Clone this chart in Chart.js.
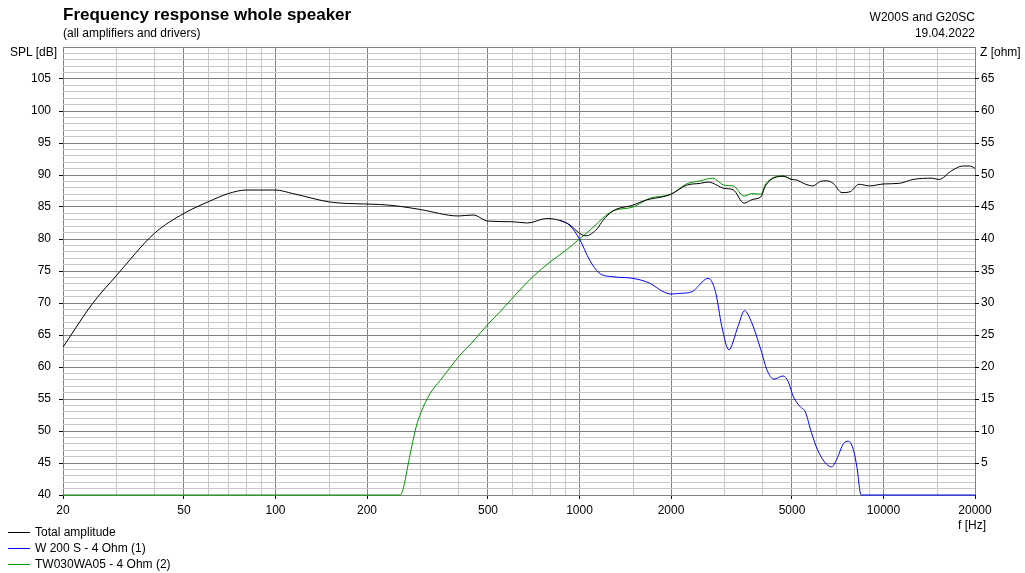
<!DOCTYPE html>
<html>
<head>
<meta charset="utf-8">
<script src="https://cdn.jsdelivr.net/npm/chart.js@4.4.1/dist/chart.umd.min.js"></script>
<style>
    body { margin: 0; background: #fff; font-family: "Liberation Sans", Arial, sans-serif; color: #000; }
    #wrap { position: relative; width: 1025px; height: 573px; }
    #wrap canvas { position: absolute; left: 0; top: 0; }
    .txt { position: absolute; font-size: 12px; line-height: 14px; white-space: nowrap; }
    .title { font-size: 17px; font-weight: bold; line-height: 18px; }
    .right { text-align: right; }
    .leg { position: absolute; left: 8px; font-size: 12px; line-height: 14px; white-space: nowrap; }
    .leg span { display: inline-block; width: 22px; height: 0; border-top: 1px solid; vertical-align: middle; margin-right: 5px; }
</style>
</head>
<body>
<div id="wrap">
    <canvas id="frChart" width="1025" height="573"></canvas>
    <div class="txt title" style="left:63px; top:6px;">Frequency response whole speaker</div>
    <div class="txt" style="left:63px; top:26px;">(all amplifiers and drivers)</div>
    <div class="txt right" style="right:50px; top:10px;">W200S and G20SC</div>
    <div class="txt right" style="right:50px; top:26px;">19.04.2022</div>
    <div class="txt right" style="right:968px; top:45px;">SPL [dB]</div>
    <div class="txt" style="left:980px; top:45px;">Z [ohm]</div>
    <div class="txt" style="left:958px; top:518px;">f [Hz]</div>
    <div class="leg" style="top:525px;"><span style="border-color:#000000"></span>Total amplitude</div>
    <div class="leg" style="top:541px;"><span style="border-color:#0000ff"></span>W 200 S - 4 Ohm (1)</div>
    <div class="leg" style="top:557px;"><span style="border-color:#009600"></span>TW030WA05 - 4 Ohm (2)</div>
</div>

<script>
// Frequenzgang - Werte

// Achsen
const freqLabels = [20, 50, 100, 200, 500, 1000, 2000, 5000, 10000, 20000];
const freqMinor = [30, 40, 60, 70, 80, 90, 150, 300, 400, 600, 700, 800, 900, 1500,
                   3000, 4000, 6000, 7000, 8000, 9000, 15000];
const splTicks = [40, 45, 50, 55, 60, 65, 70, 75, 80, 85, 90, 95, 100, 105];
const ohmTicks = [5, 10, 15, 20, 25, 30, 35, 40, 45, 50, 55, 60, 65];

// Total amplitude
const totalFreq = [20, 25, 30, 40, 50, 60, 70, 80, 100, 114, 150, 172, 220, 257, 300, 400, 447, 500,
                   600, 675, 780, 862, 930, 1000, 1050, 1143, 1194, 1290, 1500, 1660, 1880, 2000,
                   2250, 2500, 2650, 3000, 3200, 3480, 3720, 3950, 4100, 4670, 5000, 5200, 5450,
                   5860, 6200, 6500, 6830, 7300, 7780, 8300, 9000, 10000, 11290, 12500, 14500,
                   15200, 16800, 18200, 19200, 20000];
const totalDb = [63.1, 69.9, 74.3, 80.9, 84.0, 85.8, 87.1, 87.65, 87.65, 87.1, 85.8, 85.55, 85.4, 85.1, 84.6, 83.6, 83.75, 82.8,
                 82.7, 82.5, 83.2, 82.9, 82.2, 80.9, 80.5, 81.6, 82.9, 84.4, 85.3, 86.1, 86.6, 87.0,
                 88.4, 88.7, 88.9, 87.9, 87.7, 85.6, 86.2, 86.6, 88.4, 89.8, 89.3, 89.2, 88.7,
                 88.3, 89.0, 89.1, 88.7, 87.25, 87.4, 88.55, 88.3, 88.6, 88.7, 89.3, 89.5,
                 89.3, 90.7, 91.4, 91.4, 91.05];

// W 200 S - 4 Ohm (1)
const wooferFreq = [20, 25, 30, 40, 50, 60, 70, 80, 100, 114, 150, 172, 220, 257, 300, 400, 447, 500,
                    600, 675, 780, 862, 930, 1000, 1080, 1160, 1290, 1500, 1700, 1880, 2000, 2130,
                    2360, 2420, 2650, 2800, 2940, 3100, 3320, 3490, 3680, 3950, 4140, 4360, 4670,
                    4860, 5060, 5320, 5530, 5790, 6090, 6500, 6760, 7020, 7380, 7670, 7980, 8180,
                    8440, 20000];
const wooferDb = [63.1, 69.9, 74.3, 80.9, 84.0, 85.8, 87.1, 87.6, 87.6, 87.0, 85.8, 85.5, 85.4, 85.1, 84.5, 83.5, 83.7, 82.8,
                  82.7, 82.5, 83.2, 82.9, 82.1, 80.0, 76.7, 74.7, 74.1, 73.85, 73.1, 71.8, 71.4, 71.5,
                  71.8, 72.3, 73.85, 71.8, 66.3, 62.7, 66.3, 68.8, 67.0, 62.7, 59.5, 58.1, 58.6,
                  57.7, 55.3, 53.8, 53.0, 49.8, 46.9, 44.8, 44.4, 45.6, 48.0, 48.4, 46.9, 44.3,
                  40, 40];

// TW030WA05 - 4 Ohm (2)
const tweeterFreq = [20, 257, 262, 276, 290, 301, 322, 348, 376, 400, 447, 500, 547, 600, 650, 700,
                     800, 900, 1000, 1114, 1194, 1290, 1500, 1700, 2000, 2250, 2500, 2740, 3000,
                     3200, 3480, 3680, 3950, 4100, 4670, 5000, 5200, 5450, 5860, 6200, 6500, 6830,
                     7300, 7780, 8300, 9000, 10000, 11290, 12500, 14500, 15200, 16800, 18200, 19200, 20000];
const tweeterDb = [40, 40, 40.7, 45.9, 50.6, 52.9, 55.8, 57.9, 59.95, 61.6, 64.0, 66.7, 68.6, 70.7, 72.5, 74.05,
                   76.4, 78.2, 80.0, 81.9, 83.3, 84.4, 85.0, 86.35, 87.0, 88.6, 89.1, 89.5, 88.4,
                   88.3, 86.7, 87.1, 87.0, 88.6, 89.85, 89.3, 89.2, 88.7, 88.3, 89.0, 89.1, 88.7,
                   87.3, 87.45, 88.6, 88.3, 88.6, 88.7, 89.3, 89.5, 89.3, 90.75, 91.4, 91.4, 91.05];

const MAJOR_GRID = '#808080';
const MINOR_GRID = '#c8c8c8';
const HIDDEN = 'rgba(0,0,0,0)';

function toPoints(xs, ys) {
    return xs.map((x, i) => ({ x: x, y: ys[i] }));
}

// hidden = Bereich, in dem die Kurve unter der Summenkurve liegt
function lineSet(label, xs, ys, color, hidden) {
    return {
        label: label,
        data: toPoints(xs, ys),
        borderColor: color,
        backgroundColor: color,
        borderWidth: 1,
        pointRadius: 0,
        cubicInterpolationMode: 'monotone',
        clip: 2,
        yAxisID: 'y',
        segment: {
            borderColor: (ctx) => hidden && hidden(ctx.p0.parsed.x, ctx.p1.parsed.x) ? HIDDEN : undefined
        }
    };
}

const freqGrid = freqLabels.concat(freqMinor).sort((a, b) => a - b);
const splGrid = [];
for (let v = 40; v <= 110; v++) splGrid.push(v);

const tickFont = { family: '"Liberation Sans", Arial, sans-serif', size: 12 };

const config = {
    type: 'line',
    data: {
        datasets: [
            lineSet('Total amplitude', totalFreq, totalDb, '#000000'),
            lineSet('W 200 S - 4 Ohm (1)', wooferFreq, wooferDb, '#0000ff', (a, b) => b <= 862),
            lineSet('TW030WA05 - 4 Ohm (2)', tweeterFreq, tweeterDb, '#009600', (a, b) => a >= 5000)
        ]
    },
    options: {
        responsive: false,
        animation: false,
        layout: { padding: { top: 47, left: 0, right: 0, bottom: 0 } },
        plugins: {
            legend: { display: false },
            tooltip: { enabled: false }
        },
        scales: {
            x: {
                type: 'logarithmic',
                min: 20,
                max: 20000,
                afterBuildTicks: (scale) => {
                    scale.ticks = freqGrid.map(v => ({ value: v }));
                },
                afterFit: (scale) => { scale.height = 78; },
                border: { display: false },
                grid: {
                    color: (ctx) => freqLabels.includes(ctx.tick.value) ? MAJOR_GRID : MINOR_GRID,
                    tickColor: (ctx) => freqLabels.includes(ctx.tick.value) ? '#000' : HIDDEN,
                    tickLength: 4,
                    lineWidth: 1
                },
                ticks: {
                    autoSkip: false,
                    maxRotation: 0,
                    padding: 4,
                    color: '#000',
                    font: tickFont,
                    callback: (value) => freqLabels.includes(value) ? String(value) : ''
                }
            },
            y: {
                type: 'linear',
                position: 'left',
                min: 40,
                max: 110,
                afterBuildTicks: (scale) => {
                    scale.ticks = splGrid.map(v => ({ value: v }));
                },
                afterFit: (scale) => { scale.width = 63; },
                border: { display: false },
                grid: {
                    color: (ctx) => ctx.tick.value % 5 === 0 ? MAJOR_GRID : MINOR_GRID,
                    tickColor: (ctx) => splTicks.includes(ctx.tick.value) ? '#000' : HIDDEN,
                    tickLength: 4,
                    lineWidth: 1
                },
                ticks: {
                    autoSkip: false,
                    padding: 8,
                    color: '#000',
                    font: tickFont,
                    callback: (value) => splTicks.includes(value) ? String(value) : ''
                }
            },
            y2: {
                type: 'linear',
                position: 'right',
                min: 0,
                max: 70,
                afterBuildTicks: (scale) => {
                    scale.ticks = ohmTicks.map(v => ({ value: v }));
                },
                afterFit: (scale) => { scale.width = 50; },
                border: { display: false },
                grid: {
                    drawOnChartArea: false,
                    tickColor: '#000',
                    tickLength: 4
                },
                ticks: {
                    autoSkip: false,
                    padding: 2,
                    color: '#000',
                    font: tickFont,
                    callback: (value) => String(value)
                }
            }
        }
    }
};

const chart = new Chart(document.getElementById('frChart'), config);
</script>
</body>
</html>
